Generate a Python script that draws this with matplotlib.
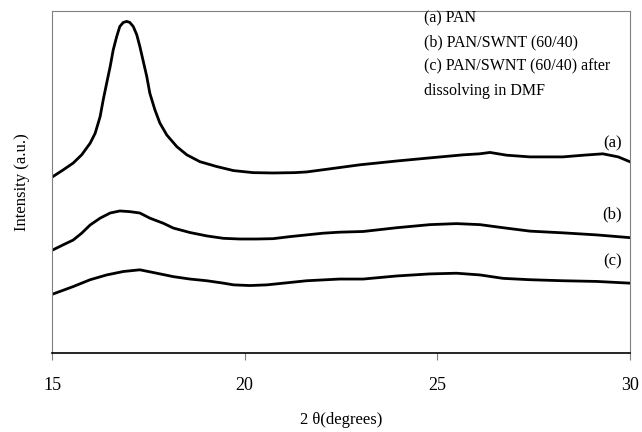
"""XRD patterns of PAN and PAN/SWNT films"""
import matplotlib.pyplot as plt

# 2 theta (degrees) and intensity (a.u.)
theta_a = [15.03, 15.29, 15.55, 15.77, 15.99, 16.12, 16.25, 16.33, 16.42, 16.51,
           16.59, 16.68, 16.76, 16.85, 16.94, 17.02, 17.11, 17.20, 17.28, 17.37,
           17.46, 17.54, 17.67, 17.80, 17.98, 18.24, 18.50, 18.84, 19.27, 19.71,
           20.22, 20.74, 21.30, 21.61, 22.21, 23.00, 23.95, 24.80, 25.67, 26.10,
           26.37, 26.80, 27.41, 28.26, 28.80, 29.30, 29.70, 30.0]
int_a = [51.6, 53.5, 55.5, 57.9, 61.3, 64.2, 69.1, 74.0, 78.9, 83.7,
         88.6, 92.5, 95.4, 96.6, 96.9, 96.6, 95.4, 93.0, 89.6, 85.2,
         80.8, 75.9, 71.1, 67.2, 63.7, 60.3, 57.9, 55.9, 54.5, 53.3,
         52.7, 52.6, 52.7, 52.9, 53.8, 55.0, 56.1, 57.0, 57.9, 58.2,
         58.6, 57.8, 57.3, 57.3, 57.8, 58.2, 57.3, 55.9]

theta_b = [15.02, 15.29, 15.55, 15.77, 15.99, 16.25, 16.51, 16.76, 17.02, 17.28,
           17.54, 17.89, 18.15, 18.58, 19.02, 19.45, 19.88, 20.31, 20.74, 21.18,
           21.61, 22.04, 22.47, 23.08, 23.95, 24.81, 25.50, 26.11, 26.71, 27.41,
           28.27, 29.14, 30.0]
int_b = [30.1, 31.6, 33.0, 35.0, 37.4, 39.4, 40.9, 41.5, 41.3, 40.9,
         39.4, 37.9, 36.5, 35.2, 34.2, 33.5, 33.3, 33.3, 33.4, 34.0,
         34.5, 35.0, 35.3, 35.5, 36.6, 37.5, 37.8, 37.5, 36.6, 35.6,
         35.1, 34.5, 33.7]

theta_c = [15.02, 15.55, 15.99, 16.42, 16.85, 17.28, 17.72, 18.15, 18.58, 19.02,
           19.45, 19.71, 20.14, 20.58, 21.01, 21.61, 22.47, 23.08, 23.95, 24.81,
           25.50, 26.11, 26.71, 27.41, 28.27, 29.14, 30.0]
int_c = [17.2, 19.4, 21.4, 22.8, 23.8, 24.3, 23.3, 22.3, 21.6, 21.1,
         20.4, 19.9, 19.7, 19.9, 20.4, 21.1, 21.6, 21.6, 22.5, 23.1,
         23.3, 22.8, 21.8, 21.4, 21.1, 20.9, 20.4]

legend_lines = ['(a) PAN', '(b) PAN/SWNT (60/40)',
                '(c) PAN/SWNT (60/40) after', 'dissolving in DMF']

plt.rcParams['font.family'] = 'Liberation Serif'

fig = plt.figure(figsize=(6.42, 4.32), dpi=100)
ax = fig.add_axes([0.081, 0.183, 0.900, 0.792])

ax.plot(theta_a, int_a, c='black', lw=2.0)
ax.plot(theta_b, int_b, c='black', lw=2.0)
ax.plot(theta_c, int_c, c='black', lw=2.0)

# curve labels
ax.text(29.8, 61.3, '(a)', fontsize=12, ha='right', va='center')
ax.text(29.8, 40.4, '(b)', fontsize=12, ha='right', va='center')
ax.text(29.8, 26.8, '(c)', fontsize=12, ha='right', va='center')

ax.set_xlim(15, 30)
ax.set_ylim(0, 100)
ax.set_xticks([15, 20, 25, 30])
ax.set_yticks([])
ax.tick_params(axis='x', direction='out', length=5, color='#808080',
               labelsize=13, pad=12)

for side in ['left', 'right', 'top']:
    ax.spines[side].set_color('#808080')
ax.spines['bottom'].set_color('black')
ax.spines['bottom'].set_linewidth(1.2)

ax.set_xlabel('2 \u03b8(degrees)', fontsize=12, labelpad=13)
ax.set_ylabel('Intensity (a.u.)', fontsize=12, labelpad=16)

fig.text(424 / 642, 1 - 10 / 432, '\n'.join(legend_lines), fontsize=11.5,
         ha='left', va='top', linespacing=1.7)

fig.savefig('out.png', dpi=100)
